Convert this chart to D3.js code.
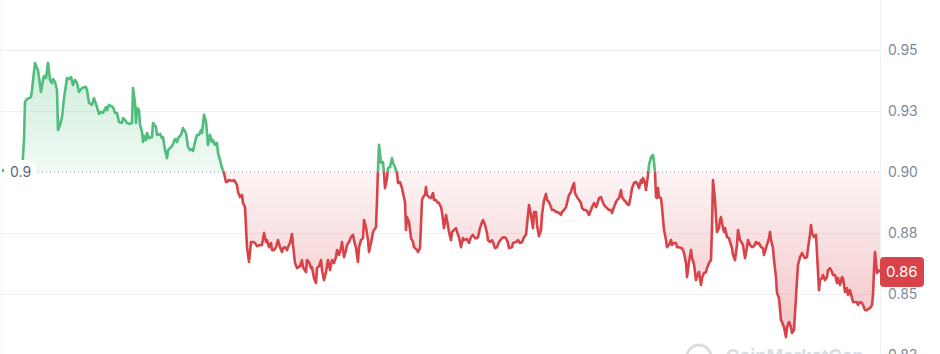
<!DOCTYPE html>
<html>
<head>
<meta charset="utf-8">
<script src="https://cdn.jsdelivr.net/npm/d3@7"></script>
<style>
    body { margin: 0; background: #fff; }
    svg { display: block; font-family: Inter, "Noto Sans", sans-serif; }
</style>
</head>
<body>
<div id="chart"></div>
<script>
// [seconds since open, price]
let pricePoints = [
    [0, 0.9000], [200, 0.9131], [300, 0.9287], [500, 0.9299], [900, 0.9307], [1000, 0.9336], [1300, 0.9447],
    [1500, 0.9426], [1600, 0.9418], [1900, 0.9328], [2100, 0.9377], [2200, 0.9393], [2400, 0.9385], [2600, 0.9447],
    [2800, 0.9377], [3000, 0.9365], [3100, 0.9381], [3300, 0.9369], [3500, 0.9336], [3600, 0.9172], [3800, 0.9193],
    [4000, 0.9225], [4200, 0.9303], [4500, 0.9385], [4700, 0.9381], [4900, 0.9389], [5100, 0.9357], [5300, 0.9377],
    [5500, 0.9365], [5700, 0.9328], [6000, 0.9344], [6200, 0.9348], [6400, 0.9348], [6500, 0.9336], [6700, 0.9283],
    [7000, 0.9275], [7200, 0.9303], [7500, 0.9266], [7700, 0.9238], [7900, 0.9246], [8100, 0.9242], [8400, 0.9266],
    [8500, 0.9254], [8700, 0.9275],
    [9100, 0.9266], [9300, 0.9242], [9500, 0.9242], [9700, 0.9205], [10000, 0.9201], [10100, 0.9221], [10300, 0.9213],
    [10500, 0.9201], [10700, 0.9197], [11000, 0.9201], [11100, 0.9344], [11300, 0.9283], [11400, 0.9201], [11500, 0.9262],
    [11700, 0.9254], [11800, 0.9193], [12000, 0.9164], [12100, 0.9123], [12200, 0.9147], [12400, 0.9131], [12500, 0.9160],
    [12700, 0.9139], [13000, 0.9143], [13100, 0.9201], [13400, 0.9184], [13500, 0.9152], [13800, 0.9156], [14000, 0.9139],
    [14100, 0.9143], [14300, 0.9090], [14500, 0.9057], [14600, 0.9090], [15000, 0.9106], [15300, 0.9135], [15500, 0.9123],
    [15600, 0.9139], [15900, 0.9152], [16100, 0.9180], [16200, 0.9172], [16400, 0.9160], [16600, 0.9102], [16800, 0.9090],
    [17000, 0.9094], [17100, 0.9086], [17400, 0.9139], [17500, 0.9152], [17700, 0.9152], [17900, 0.9172], [18000, 0.9160],
    [18200, 0.9234], [18400, 0.9205], [18500, 0.9160], [18600, 0.9111], [18800, 0.9152], [19000, 0.9123], [19100, 0.9131],
    [19300, 0.9111], [19500, 0.9119], [19600, 0.9078], [19800, 0.9049], [20000, 0.9016], [20200, 0.8996], [20400, 0.8959],
    [20500, 0.8959], [20700, 0.8967], [21000, 0.8963], [21200, 0.8967],
    [21500, 0.8947], [21600, 0.8918], [21800, 0.8897], [22000, 0.8906], [22100, 0.8873], [22300, 0.8856], [22400, 0.8774],
    [22500, 0.8692], [22700, 0.8631], [22900, 0.8713], [23100, 0.8713], [23300, 0.8709], [23500, 0.8696], [23800, 0.8701],
    [24000, 0.8701], [24200, 0.8750], [24400, 0.8713], [24500, 0.8721], [24700, 0.8692], [24900, 0.8709], [25000, 0.8680],
    [25200, 0.8680], [25400, 0.8692], [25600, 0.8721], [25800, 0.8692], [26000, 0.8672], [26100, 0.8688], [26300, 0.8692],
    [26500, 0.8680], [26600, 0.8692], [26800, 0.8709], [27000, 0.8746], [27100, 0.8701], [27300, 0.8627], [27500, 0.8606],
    [27800, 0.8614], [28000, 0.8639], [28100, 0.8610], [28400, 0.8590], [28500, 0.8639], [28700, 0.8631], [28900, 0.8606],
    [29000, 0.8610], [29200, 0.8565], [29400, 0.8545], [29500, 0.8606], [29700, 0.8614], [29900, 0.8639], [30000, 0.8598],
    [30200, 0.8557], [30400, 0.8590], [30600, 0.8639], [30800, 0.8598], [31000, 0.8639], [31200, 0.8627], [31400, 0.8651],
    [31500, 0.8680], [31700, 0.8660], [31900, 0.8688], [32000, 0.8713], [32200, 0.8651], [32400, 0.8680], [32500, 0.8701],
    [32700, 0.8713], [32900, 0.8733], [33100, 0.8742], [33200, 0.8721], [33400, 0.8688], [33600, 0.8631], [33700, 0.8692],
    [33900, 0.8721], [34100, 0.8729], [34200, 0.8803], [34400, 0.8774], [34600, 0.8721], [34700, 0.8672], [34900, 0.8709],
    [35100, 0.8754], [35200, 0.8762], [35400, 0.8774], [35500, 0.8885], [35600, 0.9008],
    [35700, 0.9111], [35900, 0.9037], [36100, 0.9041], [36200, 0.8996], [36300, 0.8934], [36500, 0.8975], [36600, 0.9016],
    [36800, 0.9020], [37000, 0.9057], [37100, 0.9037], [37300, 0.9020], [37500, 0.8996], [37600, 0.8955], [37800, 0.8959],
    [38000, 0.8934], [38100, 0.8914], [38300, 0.8877], [38400, 0.8762], [38500, 0.8815], [38700, 0.8795], [38900, 0.8729],
    [39100, 0.8713], [39200, 0.8692], [39500, 0.8680], [39600, 0.8672], [39800, 0.8688], [40000, 0.8885], [40100, 0.8897],
    [40300, 0.8906], [40400, 0.8938], [40500, 0.8906], [40700, 0.8897], [40900, 0.8893], [41100, 0.8914], [41200, 0.8885],
    [41400, 0.8885], [41500, 0.8877], [41700, 0.8873], [41900, 0.8856], [42000, 0.8836], [42200, 0.8770], [42400, 0.8824],
    [42500, 0.8803], [42700, 0.8754], [42900, 0.8721], [43000, 0.8754], [43200, 0.8762], [43400, 0.8770], [43600, 0.8742],
    [43700, 0.8733], [43900, 0.8692], [44100, 0.8729], [44200, 0.8721], [44500, 0.8725], [44700, 0.8709], [44900, 0.8733],
    [45100, 0.8742], [45300, 0.8729], [45500, 0.8729], [45600, 0.8733], [45800, 0.8770], [46000, 0.8795], [46100, 0.8803],
    [46300, 0.8783], [46500, 0.8750], [46600, 0.8721], [46800, 0.8713], [47000, 0.8721], [47100, 0.8713], [47300, 0.8688],
    [47500, 0.8692], [47700, 0.8713], [48000, 0.8729], [48200, 0.8733], [48400, 0.8729], [48600, 0.8709], [48700, 0.8688],
    [49000, 0.8692], [49100, 0.8709], [49400, 0.8713], [49600, 0.8721], [49800, 0.8709], [50000, 0.8713], [50200, 0.8733],
    [50400, 0.8742], [50500, 0.8783], [50700, 0.8865], [50900, 0.8824], [51100, 0.8770], [51200, 0.8836], [51400, 0.8836],
    [51500, 0.8783], [51700, 0.8737],
    [51900, 0.8762], [52000, 0.8824], [52200, 0.8885], [52400, 0.8910], [52500, 0.8885], [52700, 0.8877], [52900, 0.8856],
    [53000, 0.8844], [53200, 0.8844], [53400, 0.8836], [53500, 0.8836], [53700, 0.8832], [53900, 0.8824], [54000, 0.8836],
    [54200, 0.8844], [54400, 0.8856], [54500, 0.8873], [54700, 0.8906], [54900, 0.8918], [55000, 0.8934], [55200, 0.8955],
    [55300, 0.8914], [55500, 0.8897], [55700, 0.8885], [55900, 0.8873], [56000, 0.8852], [56200, 0.8844], [56400, 0.8844],
    [56500, 0.8840], [56700, 0.8824], [56900, 0.8844], [57000, 0.8856], [57200, 0.8873], [57400, 0.8856], [57500, 0.8865],
    [57700, 0.8893], [57900, 0.8897], [58000, 0.8885], [58200, 0.8865], [58400, 0.8856], [58500, 0.8852], [58700, 0.8844],
    [58900, 0.8844], [59000, 0.8832], [59200, 0.8856], [59400, 0.8877], [59500, 0.8885], [59700, 0.8893], [59900, 0.8926],
    [60000, 0.8897], [60200, 0.8885], [60400, 0.8877], [60500, 0.8869], [60700, 0.8865], [60900, 0.8906], [61000, 0.8934],
    [61200, 0.8955], [61400, 0.8959], [61500, 0.8955], [61700, 0.8934], [61900, 0.8967], [62000, 0.8955], [62100, 0.8975],
    [62300, 0.8955], [62400, 0.8926], [62600, 0.8988], [62700, 0.9029], [62900, 0.9061], [63100, 0.9070], [63200, 0.9041],
    [63300, 0.9000], [63400, 0.8897], [63500, 0.8893], [63600, 0.8934], [63700, 0.8897], [63900, 0.8893], [64000, 0.8856],
    [64200, 0.8762], [64400, 0.8721], [64500, 0.8692], [64700, 0.8701], [64900, 0.8721], [65000, 0.8701], [65200, 0.8709],
    [65400, 0.8709], [65500, 0.8692], [65700, 0.8692], [65900, 0.8688], [66000, 0.8688], [66200, 0.8668], [66400, 0.8627],
    [66500, 0.8569], [66700, 0.8631], [66900, 0.8680], [67000, 0.8647], [67200, 0.8623], [67400, 0.8557], [67500, 0.8573],
    [67700, 0.8590],
    [67900, 0.8537], [68000, 0.8565], [68200, 0.8586], [68400, 0.8590], [68500, 0.8606], [68700, 0.8627], [68900, 0.8639],
    [69000, 0.8774], [69100, 0.8967], [69300, 0.8885], [69400, 0.8815], [69500, 0.8754], [69700, 0.8770], [69800, 0.8803],
    [69900, 0.8815], [70100, 0.8770], [70200, 0.8754], [70300, 0.8770], [70500, 0.8733], [70700, 0.8729], [70800, 0.8713],
    [71000, 0.8688], [71100, 0.8660], [71300, 0.8639], [71500, 0.8701], [71600, 0.8762], [71800, 0.8721], [72000, 0.8709],
    [72100, 0.8701], [72300, 0.8647], [72500, 0.8692], [72600, 0.8721], [72800, 0.8701], [73000, 0.8692], [73200, 0.8696],
    [73400, 0.8713], [73600, 0.8705], [73700, 0.8709], [73900, 0.8692], [74100, 0.8688], [74200, 0.8660], [74400, 0.8688],
    [74500, 0.8701], [74700, 0.8729], [74800, 0.8754], [74900, 0.8721], [75100, 0.8688], [75200, 0.8639], [75400, 0.8569],
    [75500, 0.8504], [75700, 0.8483], [75900, 0.8393], [76000, 0.8385], [76200, 0.8364], [76400, 0.8323], [76500, 0.8364],
    [76700, 0.8385], [76900, 0.8364], [77000, 0.8340], [77200, 0.8352], [77300, 0.8422], [77500, 0.8557], [77600, 0.8619],
    [77800, 0.8651], [78000, 0.8668], [78100, 0.8660], [78300, 0.8647], [78500, 0.8651], [78600, 0.8688], [78800, 0.8742],
    [78900, 0.8783], [79000, 0.8750], [79200, 0.8733], [79400, 0.8742], [79500, 0.8668], [79700, 0.8516], [79800, 0.8557],
    [80000, 0.8565], [80100, 0.8578], [80300, 0.8557], [80500, 0.8569], [80600, 0.8598], [80800, 0.8606], [81000, 0.8590],
    [81100, 0.8578], [81300, 0.8578], [81500, 0.8545], [81600, 0.8565], [81800, 0.8537], [82000, 0.8569], [82100, 0.8565],
    [82300, 0.8508], [82500, 0.8524], [82600, 0.8496], [82800, 0.8516], [83000, 0.8483], [83100, 0.8467], [83300, 0.8467],
    [83500, 0.8467], [83600, 0.8455], [83800, 0.8467], [84000, 0.8463], [84100, 0.8455], [84300, 0.8434], [84500, 0.8434],
    [84600, 0.8438], [84800, 0.8442], [85000, 0.8455], [85100, 0.8496], [85200, 0.8598], [85300, 0.8672], [85500, 0.8586],
    [85600, 0.8598], [85800, 0.8590]
];
let openPrice = 0.9;
let tickValues = [0.825, 0.85, 0.875, 0.9, 0.925, 0.95];
let tickLabels = ["0.83", "0.85", "0.88", "0.90", "0.93", "0.95"];

let width = 940;
let height = 354;
let plotLeft = 22;
let plotRight = 880;
let green = "#4fbd7c";
let red = "#d8434a";

const x = d3.scaleLinear()
    .domain(d3.extent(pricePoints, d => d[0]))
    .range([plotLeft, plotRight]);

const y = d3.scaleLinear()
    .domain([0.825, 0.95])
    .range([355, 50]);

let svg = d3.select("#chart")
    .append("svg")
    .attr("width", width)
    .attr("height", height);

let defs = svg.append("defs");
let y0 = y(openPrice);

// gradients for the two fills
let gUp = defs.append("linearGradient").attr("id", "upFill")
    .attr("gradientUnits", "userSpaceOnUse")
    .attr("x1", 0).attr("x2", 0).attr("y1", y(0.95)).attr("y2", y0);
gUp.append("stop").attr("offset", 0).attr("stop-color", green).attr("stop-opacity", 0.3);
gUp.append("stop").attr("offset", 1).attr("stop-color", green).attr("stop-opacity", 0.08);

let gDown = defs.append("linearGradient").attr("id", "downFill")
    .attr("gradientUnits", "userSpaceOnUse")
    .attr("x1", 0).attr("x2", 0).attr("y1", y0).attr("y2", y(0.83));
gDown.append("stop").attr("offset", 0).attr("stop-color", red).attr("stop-opacity", 0.06);
gDown.append("stop").attr("offset", 1).attr("stop-color", red).attr("stop-opacity", 0.32);

defs.append("clipPath").attr("id", "clipUp")
    .append("rect").attr("x", 0).attr("y", 0).attr("width", plotRight).attr("height", y0);
defs.append("clipPath").attr("id", "clipDown")
    .append("rect").attr("x", 0).attr("y", y0).attr("width", plotRight + 2).attr("height", height - y0);

// grid
svg.append("line")
    .attr("x1", 1.5).attr("x2", 1.5).attr("y1", 0).attr("y2", height)
    .attr("stroke", "#f1f2f4");
svg.append("line")
    .attr("x1", plotRight + 0.5).attr("x2", plotRight + 0.5).attr("y1", 0).attr("y2", height)
    .attr("stroke", "#eef0f3");
svg.append("g").selectAll("line")
    .data(tickValues.filter(d => d !== openPrice))
    .join("line")
    .attr("x1", 0).attr("x2", plotRight)
    .attr("y1", d => Math.round(y(d)) + 0.5).attr("y2", d => Math.round(y(d)) + 0.5)
    .attr("stroke", "#eef0f3");

// areas + lines
let area = d3.area()
    .x(d => x(d[0]))
    .y0(y0)
    .y1(d => y(d[1]));
let line = d3.line()
    .x(d => x(d[0]))
    .y(d => y(d[1]));

svg.append("path").datum(pricePoints)
    .attr("d", area).attr("fill", "url(#upFill)").attr("clip-path", "url(#clipUp)");
svg.append("path").datum(pricePoints)
    .attr("d", area).attr("fill", "url(#downFill)").attr("clip-path", "url(#clipDown)");

// dotted open-price line
svg.append("line")
    .attr("x1", 30).attr("x2", plotRight)
    .attr("y1", y0).attr("y2", y0)
    .attr("stroke", "#8a93a3")
    .attr("stroke-width", 1)
    .attr("stroke-dasharray", "1,3");

svg.append("path").datum(pricePoints)
    .attr("d", line).attr("fill", "none")
    .attr("stroke", green).attr("stroke-width", 2.6)
    .attr("stroke-linejoin", "round")
    .attr("clip-path", "url(#clipUp)");
svg.append("path").datum(pricePoints)
    .attr("d", line).attr("fill", "none")
    .attr("stroke", red).attr("stroke-width", 2.6)
    .attr("stroke-linejoin", "round")
    .attr("clip-path", "url(#clipDown)");

// right axis
let axis = svg.append("g")
    .attr("transform", `translate(${plotRight},0)`)
    .call(d3.axisRight(y)
        .tickValues(tickValues)
        .tickFormat((d, i) => tickLabels[i])
        .tickSize(0)
        .tickPadding(8));
axis.select(".domain").remove();
axis.selectAll("text")
    .attr("fill", "#808a9d")
    .style("font-size", "14px")
    .style("font-family", "Inter, sans-serif");

// open price tag at left
let tag = svg.append("g");
tag.append("rect")
    .attr("x", 1).attr("y", y0 - 12)
    .attr("width", 35).attr("height", 25)
    .attr("rx", 7)
    .attr("fill", "#fff");
tag.append("text")
    .attr("x", 10).attr("y", y0)
    .attr("dy", "0.35em")
    .attr("fill", "#58667e")
    .style("font-size", "14px")
    .text(openPrice);
tag.append("rect")
    .attr("x", 2).attr("y", y0 - 3)
    .attr("width", 2).attr("height", 3)
    .attr("fill", green);

// last price tag
let last = pricePoints[pricePoints.length - 1];
let lastG = svg.append("g");
lastG.append("rect")
    .attr("x", plotRight).attr("y", y(last[1]) - 15)
    .attr("width", 44).attr("height", 30)
    .attr("rx", 4)
    .attr("fill", red);
lastG.append("text")
    .attr("x", plotRight + 6).attr("y", y(last[1]))
    .attr("dy", "0.35em")
    .attr("fill", "#fff")
    .style("font-size", "15px")
    .text(d3.format(".2f")(last[1]));

// watermark
let wm = svg.append("g").attr("opacity", 0.85);
wm.append("circle")
    .attr("cx", 699).attr("cy", 357).attr("r", 12)
    .attr("fill", "none").attr("stroke", "#d3d8e0").attr("stroke-width", 3);
wm.append("text")
    .attr("x", 726).attr("y", 362)
    .attr("fill", "#d3d8e0")
    .style("font-size", "18px")
    .style("font-weight", "700")
    .text("CoinMarketCap");
</script>
</body>
</html>
